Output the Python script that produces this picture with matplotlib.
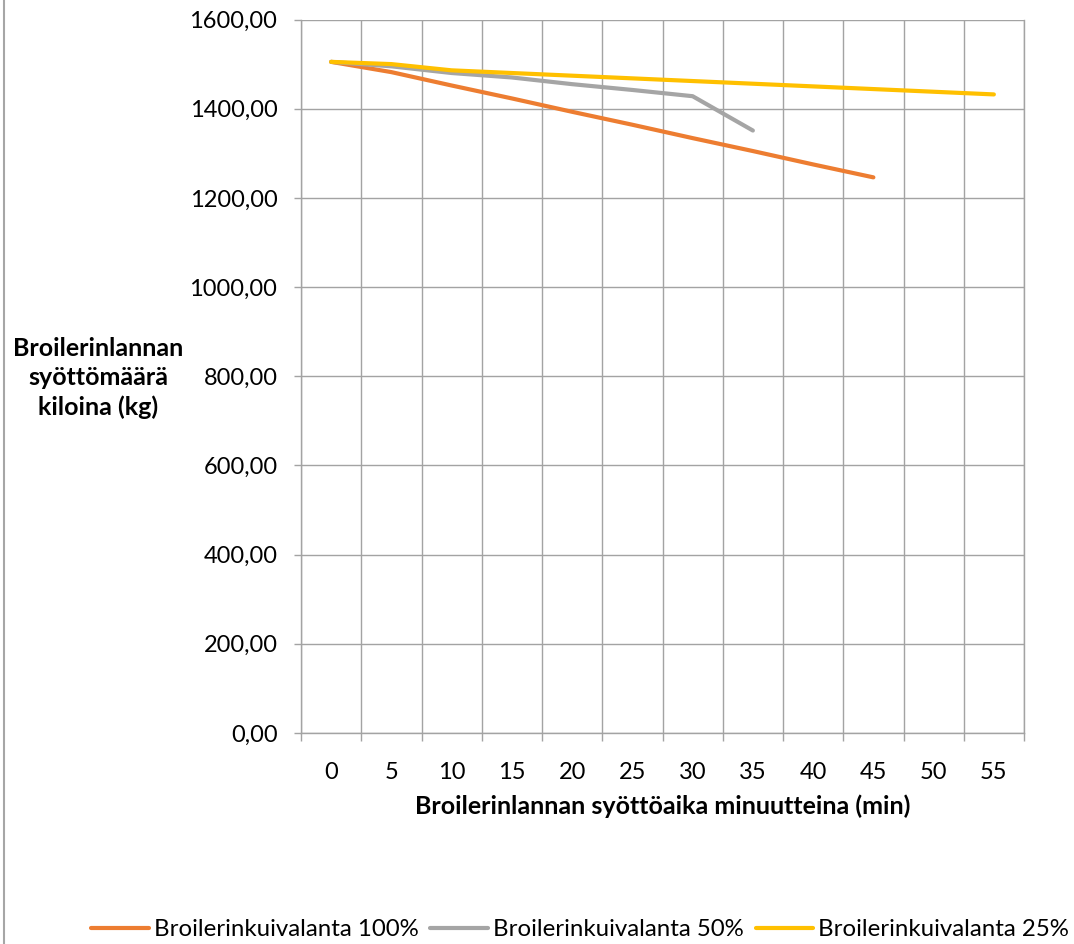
import matplotlib
matplotlib.use("Agg")
import matplotlib.pyplot as plt
from matplotlib.lines import Line2D
from matplotlib.ticker import FuncFormatter, MultipleLocator
import numpy as np

plt.rcParams["font.family"] = ["Lato", "DejaVu Sans"]

minutes = ["0", "5", "10", "15", "20", "25", "30", "35", "40", "45", "50", "55"]
kuiva_100 = [1505, 1482, 1452, 1423, 1393, 1364, 1334, 1305, 1275, 1246]
kuiva_50 = [1505, 1495, 1480, 1470, 1455, 1442, 1428, 1351]
kuiva_25 = [1505, 1500, 1486, 1480, 1474, 1468, 1462, 1456, 1450, 1444, 1438, 1432]

series = [
    ("Broilerinkuivalanta 100%", kuiva_100, "#ED7D31"),
    ("Broilerinkuivalanta 50%", kuiva_50, "#A5A5A5"),
    ("Broilerinkuivalanta 25%", kuiva_25, "#FFC000"),
]

W, H = 1074, 944
fig = plt.figure(figsize=(W / 100, H / 100), dpi=100)
ax = fig.add_axes([301 / W, 1 - 733 / H, (1024 - 301) / W, (733 - 19.5) / H])

grid_c = "#a3a3a3"
for label, vals, color in series:
    ax.plot(np.arange(len(vals)), vals, color=color, lw=3.0, solid_capstyle="round",
            solid_joinstyle="round", label=label)

ax.set_xlim(-0.5, len(minutes) - 0.5)
ax.set_ylim(0, 1600)

# category axis: labels at centers, gridlines/ticks at boundaries
ax.set_xticks(np.arange(len(minutes)))
ax.set_xticklabels(minutes)
ax.set_xticks(np.arange(-0.5, len(minutes)), minor=True)
ax.tick_params(axis="x", which="major", length=0, pad=21, labelsize=17)
ax.tick_params(axis="x", which="minor", length=6, width=1, color=grid_c, direction="out")
ax.grid(True, axis="x", which="minor", color=grid_c, lw=1)

ax.yaxis.set_major_locator(MultipleLocator(200))
ax.yaxis.set_major_formatter(FuncFormatter(lambda v, _: f"{v:.2f}".replace(".", ",")))
ax.tick_params(axis="y", length=5, width=1, color=grid_c, pad=12, labelsize=17)
ax.grid(True, axis="y", color=grid_c, lw=1)
ax.set_axisbelow(True)

for side, sp in ax.spines.items():
    sp.set_color(grid_c)
    sp.set_linewidth(1)
ax.spines["top"].set_visible(False)

ax.set_xlabel("Broilerinlannan syöttöaika minuutteina (min)", fontsize=18,
              fontweight="bold", labelpad=8)
fig.text(98 / W, 1 - 378 / H, "Broilerinlannan\nsyöttömäärä\nkiloina (kg)",
         ha="center", va="center", fontsize=18, fontweight="bold", linespacing=1.3)

# chart area border on the left edge
fig.add_artist(Line2D([4 / W, 4 / W], [0, 1], color="#a6a6a6", lw=1.5,
                      transform=fig.transFigure))

fig.legend(loc="center", bbox_to_anchor=(0.5 + 43 / W, 1 - 930 / H), ncol=3,
           frameon=False, fontsize=17.3, handlelength=2.4, handletextpad=0.2,
           columnspacing=0.5)

fig.savefig("out.png", dpi=100)
